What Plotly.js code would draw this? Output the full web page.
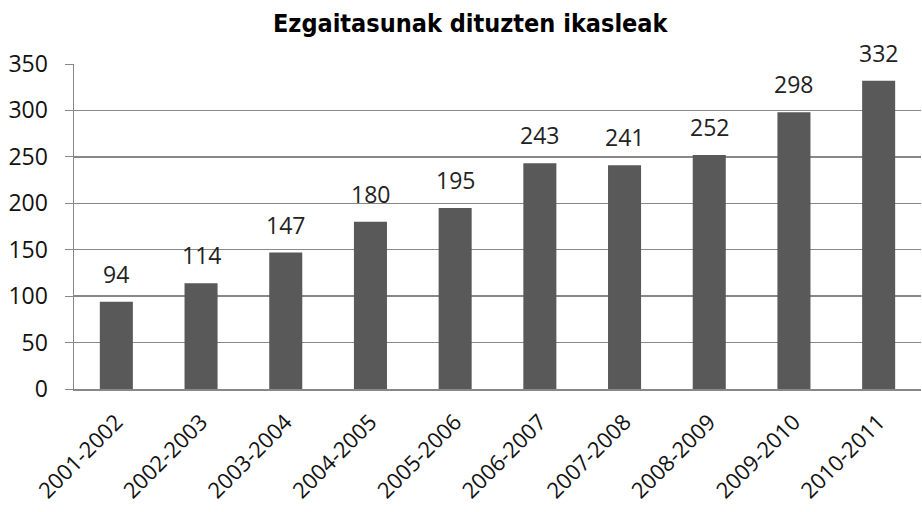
<!DOCTYPE html>
<html><head><meta charset="utf-8">
<script src="https://cdn.plot.ly/plotly-3.0.1.min.js"></script>
<style>body{margin:0;background:#fff}#chart{width:922px;height:512px}</style>
</head><body><div id="chart"></div>
<script>
const categories = ["2001-2002","2002-2003","2003-2004","2004-2005","2005-2006","2006-2007","2007-2008","2008-2009","2009-2010","2010-2011"];
const values = [94,114,147,180,195,243,241,252,298,332];
const yTicks = [0,50,100,150,200,250,300,350];
const titleText = "Ezgaitasunak dituzten ikasleak";

const font = "Open Sans, Noto Sans, sans-serif";
const labels = categories.map((c, i) => ({
  x: c, y: values[i], xref: "x", yref: "y", text: String(values[i]),
  showarrow: false, yanchor: "bottom", yshift: 10,
  font: {family: font, size: 23, color: "#222"}
}));
Plotly.newPlot("chart", [{
  type: "bar",
  x: categories,
  y: values,
  marker: {color: "#595959"},
  width: 0.39,
  hoverinfo: "skip"
}], {
  width: 922, height: 512,
  margin: {l: 74, r: 1, t: 64, b: 123},
  paper_bgcolor: "#fff", plot_bgcolor: "#fff",
  showlegend: false,
  annotations: labels,
  title: {text: "<b>" + titleText + "</b>", x: 0.51, xanchor: "center", y: 0.955, yanchor: "middle",
          font: {family: "DejaVu Sans Condensed, Liberation Sans Narrow, sans-serif", size: 25, color: "#000"}},
  xaxis: {type: "category", tickangle: -45, showline: true, linecolor: "#888", linewidth: 1.5,
          showgrid: false, ticks: "", ticklabelstandoff: 10, tickfont: {family: font, size: 22, color: "#111"}, automargin: false},
  yaxis: {range: [0, 350], tickvals: yTicks, showline: true, linecolor: "#888", linewidth: 1.5,
          showgrid: true, gridcolor: "#888", gridwidth: 1.5, ticks: "outside", ticklen: 8, tickcolor: "#888",
          ticklabelstandoff: 12,
          tickfont: {family: font, size: 23, color: "#111"}, zeroline: false, automargin: false}
}, {staticPlot: true});
</script></body></html>
